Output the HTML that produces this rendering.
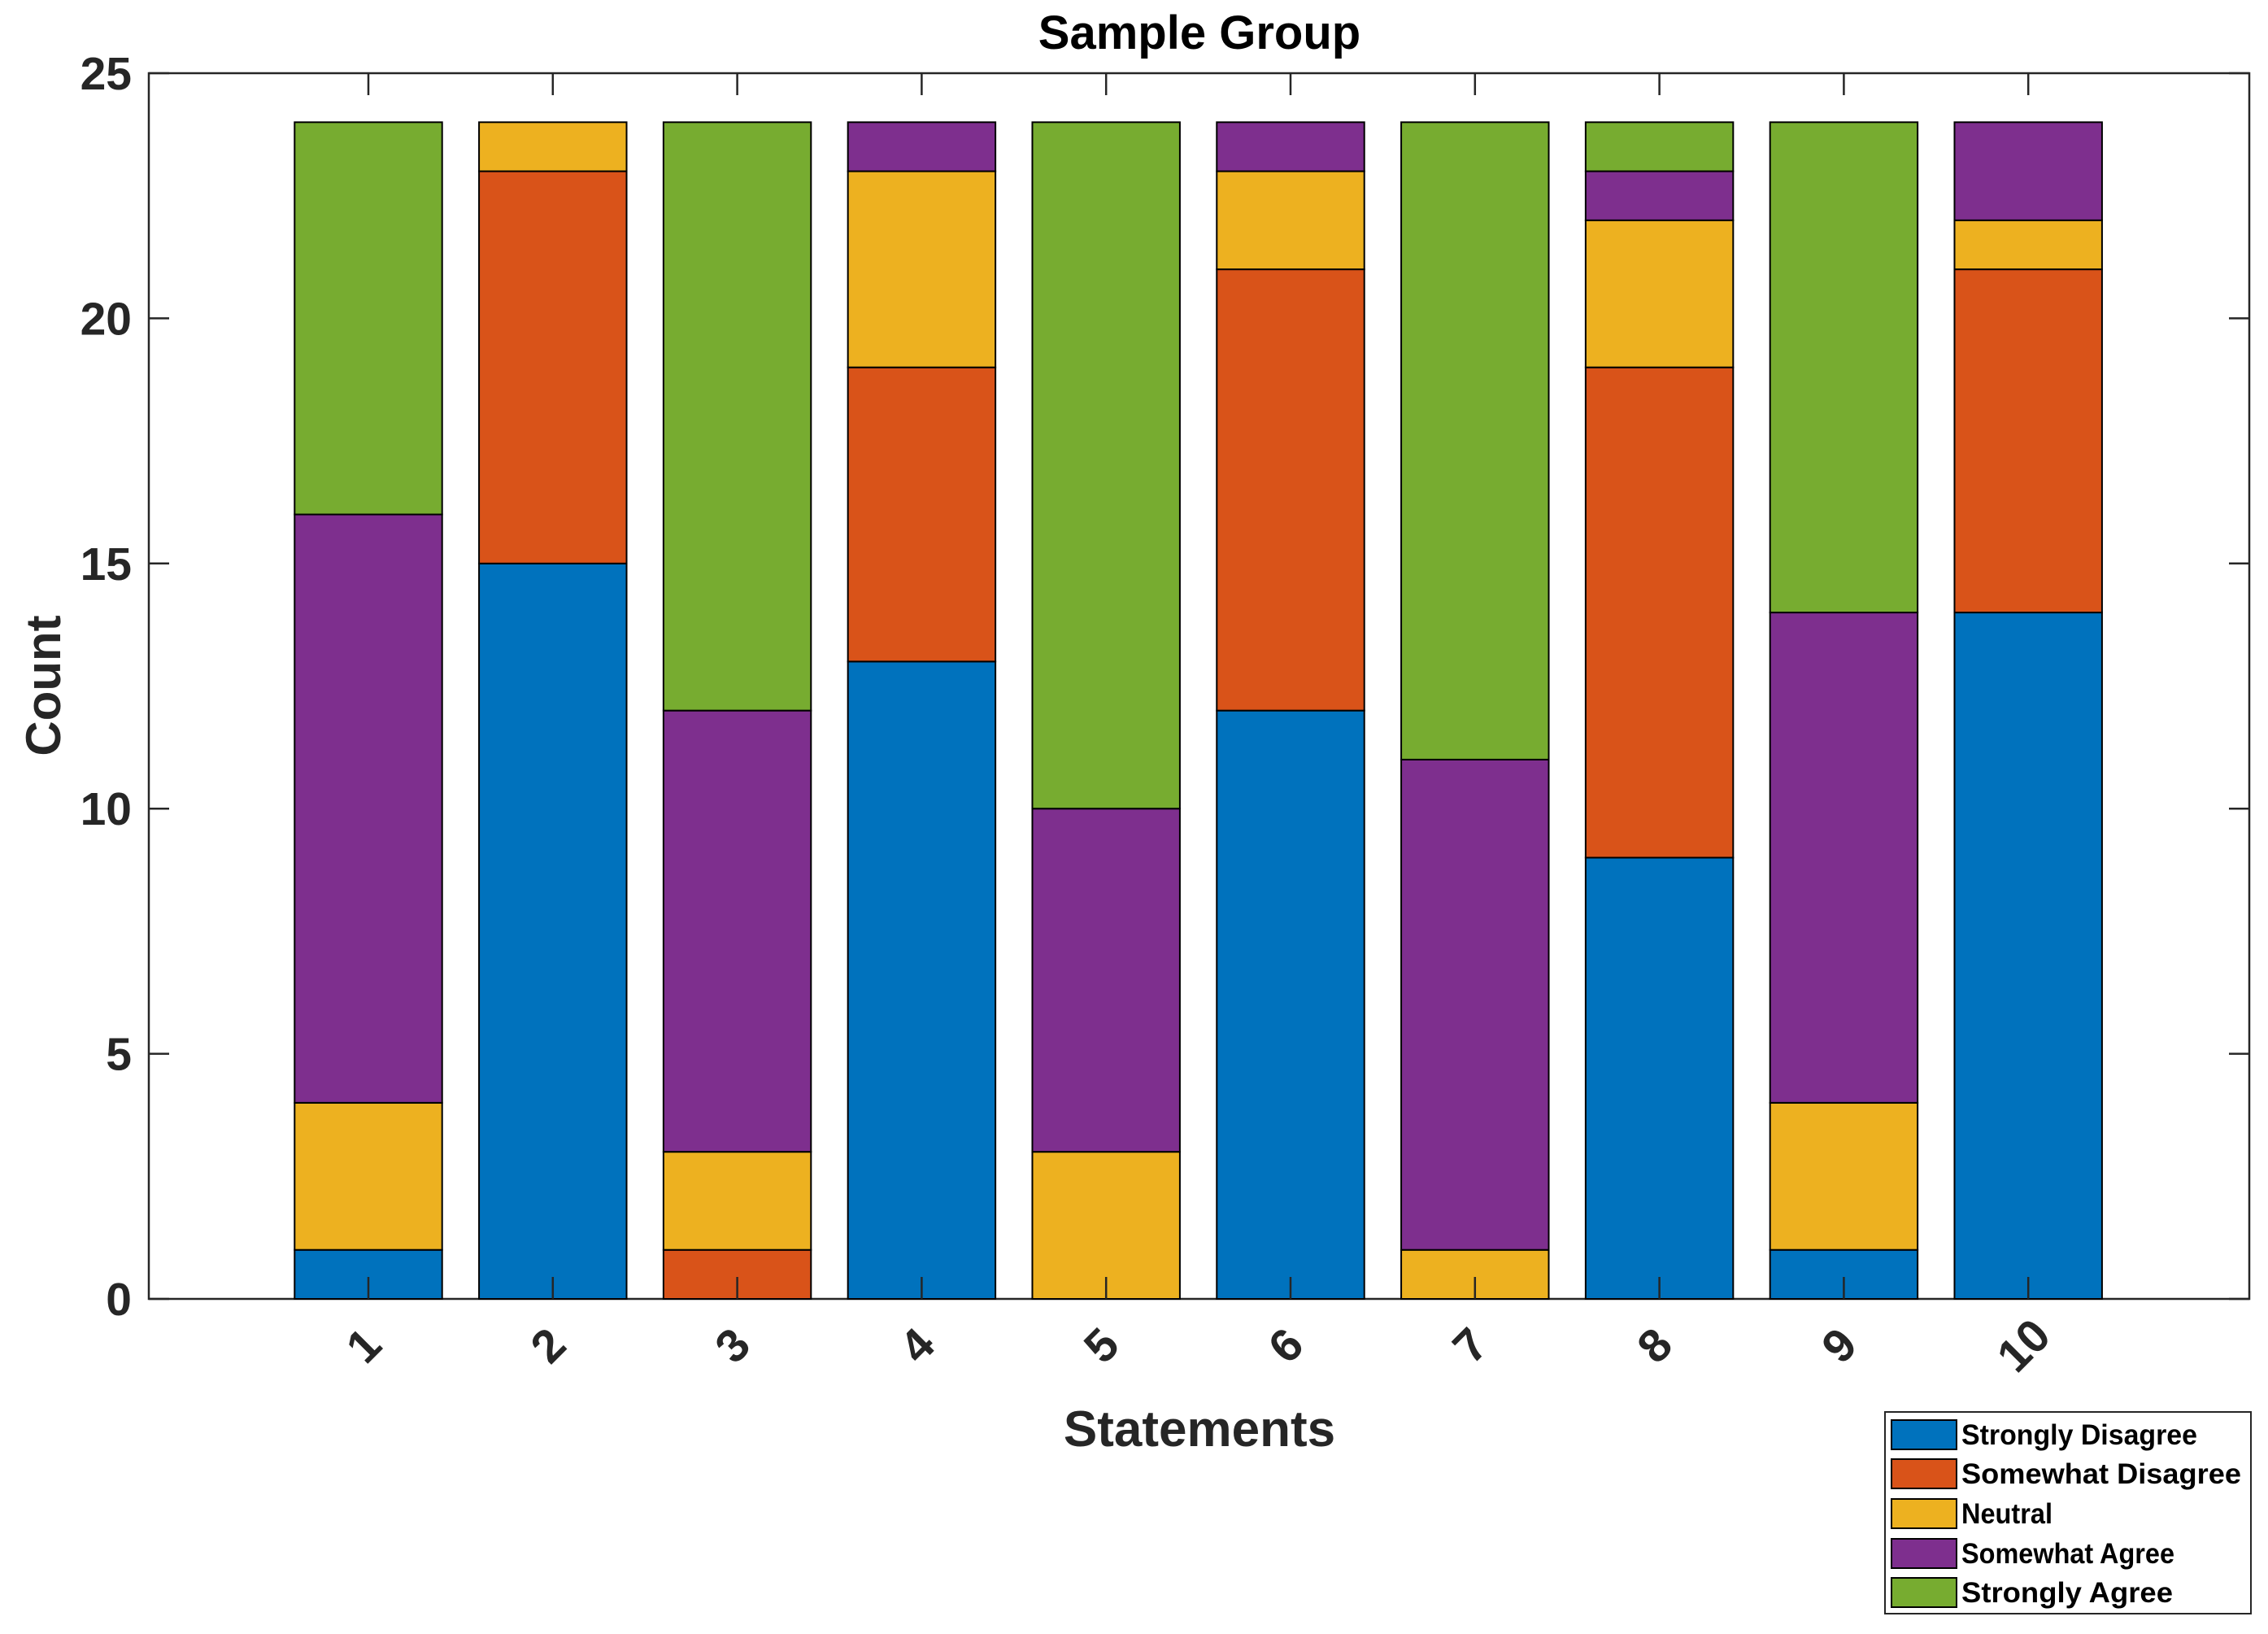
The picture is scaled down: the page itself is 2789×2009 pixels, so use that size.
<!DOCTYPE html>
<html><head><meta charset="utf-8"><style>
html,body{margin:0;padding:0;background:#fff;}
svg{display:block;font-family:"Liberation Sans",Arial,sans-serif;}
</style></head><body>
<svg id="chart" width="2789" height="2009" viewBox="0 0 2789 2009" xmlns="http://www.w3.org/2000/svg">
<rect x="0" y="0" width="2789" height="2009" fill="#fff"/>
<text x="1475" y="60" font-size="58" font-weight="bold" text-anchor="middle" fill="#000">Sample Group</text>
<text transform="translate(74,843) rotate(-90)" font-size="60" font-weight="bold" text-anchor="middle" fill="#262626">Count</text>
<text x="1475" y="1778" font-size="62" font-weight="bold" text-anchor="middle" fill="#262626">Statements</text>
<g id="bars"></g>
<g id="axes"></g>
<g id="legend"></g>
</svg>
<script>
const categories = ["1","2","3","4","5","6","7","8","9","10"];
const seriesNames = ["Strongly Disagree","Somewhat Disagree","Neutral","Somewhat Agree","Strongly Agree"];
const stronglyDisagree = [1,15,0,13,0,12,0,9,1,14];
const somewhatDisagree = [0,8,1,6,0,9,0,10,0,7];
const neutral = [3,1,2,4,3,2,1,3,3,1];
const somewhatAgree = [12,0,9,1,7,1,10,1,10,2];
const stronglyAgree = [8,0,12,0,14,0,13,1,10,0];
const yTicks = [0,5,10,15,20,25];

const series = [stronglyDisagree, somewhatDisagree, neutral, somewhatAgree, stronglyAgree];
const colors = ["#0072BD","#D95319","#EDB120","#7E2F8E","#77AC30"];
const NS = "http://www.w3.org/2000/svg";
const L = 183, R = 2766, T = 90, B = 1597;
const yMax = 25;
function y(v){ return B - (v / yMax) * (B - T); }
const step = 226.8;
function x(i){ return 453 + i * step; }
const bw = step * 0.8;

function mk(tag, attrs, parent){
  const e = document.createElementNS(NS, tag);
  for (const k in attrs) e.setAttribute(k, attrs[k]);
  parent.appendChild(e);
  return e;
}
const barsG = document.getElementById('bars');
const axesG = document.getElementById('axes');
const legG = document.getElementById('legend');

const box = mk('rect', {x:L, y:T, width:R-L, height:B-T, fill:'#fff', stroke:'#262626', 'stroke-width':2.5}, barsG);



categories.forEach((c, i) => {
  let base = 0;
  series.forEach((s, k) => {
    const v = s[i];
    if (v > 0) {
      const r = mk('rect', {x:x(i)-bw/2, y:y(base+v), width:bw, height:y(base)-y(base+v), fill:colors[k], stroke:'#000', 'stroke-width':2}, barsG);
      
      
    }
    base += v;
  });
});

yTicks.forEach(t => {
  mk('line', {x1:L, x2:L+25, y1:y(t), y2:y(t), stroke:'#262626', 'stroke-width':2.5}, axesG);
  mk('line', {x1:R, x2:R-25, y1:y(t), y2:y(t), stroke:'#262626', 'stroke-width':2.5}, axesG);
  const tx = mk('text', {x:162, y:y(t)+20, 'font-size':57, 'font-weight':'bold', 'text-anchor':'end', fill:'#262626'}, axesG);
  tx.textContent = t;
  
  
});
categories.forEach((c, i) => {
  mk('line', {x1:x(i), x2:x(i), y1:B, y2:B-27, stroke:'#262626', 'stroke-width':2.5}, axesG);
  mk('line', {x1:x(i), x2:x(i), y1:T, y2:T+27, stroke:'#262626', 'stroke-width':2.5}, axesG);
  const tx = mk('text', {transform:'translate(' + (x(i)+8) + ',' + 1668 + ') rotate(-45)', 'font-size':57, 'font-weight':'bold', 'text-anchor':'middle', fill:'#262626'}, axesG);
  tx.textContent = c;
  
  
});

const lb = mk('rect', {x:2318, y:1736, width:450, height:248, fill:'#fff', stroke:'#262626', 'stroke-width':2}, legG);


const rowY = [1764, 1812, 1861, 1910, 1958];
const textLen = [290, 344, 112, 262, 260];
seriesNames.forEach((n, k) => {
  const sw = mk('rect', {x:2326, y:rowY[k]-18, width:80, height:36, fill:colors[k], stroke:'#000', 'stroke-width':2}, legG);
  
  
  const t = mk('text', {x:2412, y:rowY[k]+12, 'font-size':35, 'font-weight':'bold', fill:'#000', textLength:textLen[k], lengthAdjust:'spacingAndGlyphs'}, legG);
  t.textContent = n;
  
  
});
</script>
</body></html>
